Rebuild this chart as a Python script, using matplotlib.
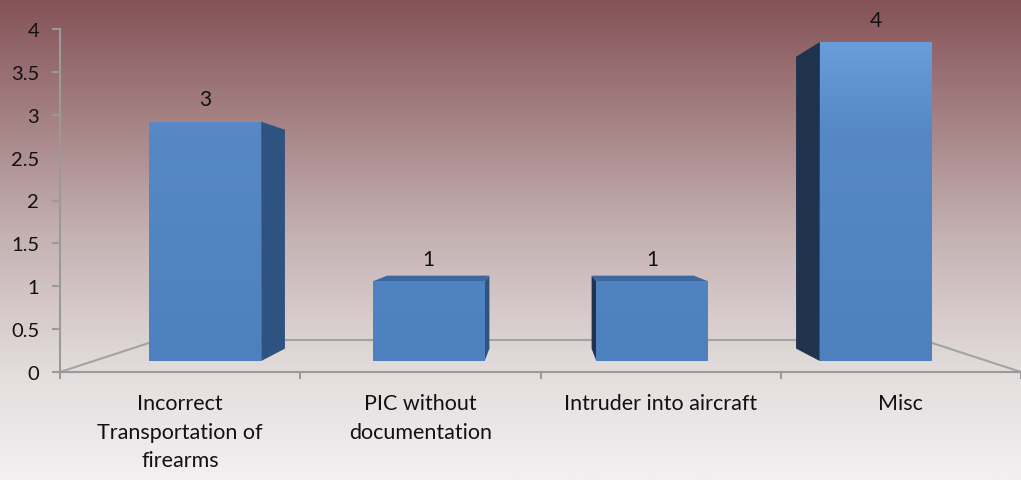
import matplotlib
matplotlib.use('Agg')

import numpy as np
import matplotlib.pyplot as plt
from matplotlib.patches import Polygon
from matplotlib.colors import LinearSegmentedColormap

categories = ['Incorrect\nTransportation of\nfirearms', 'PIC without\ndocumentation',
              'Intruder into aircraft', 'Misc']
values = [3, 1, 1, 4]
yticks = [0, 0.5, 1, 1.5, 2, 2.5, 3, 3.5, 4]
ytick_labels = ['0', '0.5', '1', '1.5', '2', '2.5', '3', '3.5', '4']

plt.rcParams['font.family'] = ['Lato', 'DejaVu Sans']

# fake perspective: front plane scale s=1, bars set back a bit
vx, vy = 1.5, 1.83       # vanishing point in data units
s_front, s_back, s_floor = 0.93, 0.851, 0.796
half_w = 0.25

def proj(x, y, s):
    return (vx + s * (x - vx), vy + s * (y - vy))

fig = plt.figure(figsize=(10.21, 4.81), dpi=100)

# background gradient
bg = fig.add_axes([0, 0, 1, 1], zorder=0)
bg_cmap = LinearSegmentedColormap.from_list('bg', [(0, '#f2f0f2'), (0.22, '#e4dddd'),
                                                   (0.5, '#c6b3b4'), (0.75, '#a58284'),
                                                   (1, '#845257')])
bg.imshow(np.linspace(0, 1, 256).reshape(-1, 1), cmap=bg_cmap, aspect='auto',
          origin='lower', extent=[0, 1, 0, 1])
bg.set_axis_off()

ax = fig.add_axes([60 / 1021, 108 / 481, 961 / 1021, 343 / 481], zorder=1)
ax.patch.set_alpha(0)
ax.set_xlim(-0.5, -0.5 + 961 / 243)
ax.set_ylim(0, 4)

# floor outline
n = len(values)
bl = proj(-0.5, 0, s_floor)
br = proj(n - 0.5, 0, s_floor)
ax.plot([-0.5, bl[0], br[0], n - 0.5], [0, bl[1], br[1], 0], color='#a3a3a3', lw=1.5, zorder=1)

bar_cmap = LinearSegmentedColormap.from_list('bar', [(0, '#4d81be'), (0.7, '#5588c5'),
                                                     (1, '#6ca1dd')])
grad = np.linspace(0, 1, 256).reshape(-1, 1)

for i, v in enumerate(values):
    x0, x1 = i - half_w, i + half_w
    if x1 < vx:
        side = [proj(x1, 0, s_front), proj(x1, v, s_front), proj(x1, v, s_back), proj(x1, 0, s_back)]
        ax.add_patch(Polygon(side, closed=True, facecolor='#2f5381', edgecolor='none', zorder=2))
    elif x0 > vx:
        side = [proj(x0, 0, s_front), proj(x0, v, s_front), proj(x0, v, s_back), proj(x0, 0, s_back)]
        ax.add_patch(Polygon(side, closed=True, facecolor='#1f334e', edgecolor='none', zorder=2))
    if v < vy:
        top = [proj(x0, v, s_front), proj(x1, v, s_front), proj(x1, v, s_back), proj(x0, v, s_back)]
        ax.add_patch(Polygon(top, closed=True, facecolor='#3e69a0', edgecolor='none', zorder=2))
    front = [proj(x0, 0, s_front), proj(x1, 0, s_front), proj(x1, v, s_front), proj(x0, v, s_front)]
    face = Polygon(front, closed=True, facecolor='none', edgecolor='none', zorder=3)
    ax.add_patch(face)
    im = ax.imshow(grad, cmap=bar_cmap, aspect='auto', origin='lower',
                   extent=[-0.5, 3.5, 0, 4], zorder=3)
    im.set_clip_path(face)
    tx, ty = proj(i, v, s_front)
    ax.annotate(str(v), xy=(tx, ty), xytext=(0, 9), textcoords='offset points',
                ha='center', va='bottom', fontsize=15, color='#111111', zorder=4)

ax.set_xlim(-0.5, -0.5 + 961 / 243)
ax.set_ylim(0, 4)

for sp in ['top', 'right']:
    ax.spines[sp].set_visible(False)
for sp in ['left', 'bottom']:
    ax.spines[sp].set_color('#9a9a9a')
    ax.spines[sp].set_linewidth(1.5)

ax.set_yticks(yticks)
ax.set_yticklabels(ytick_labels, fontsize=14.5, color='#111111')
ax.tick_params(axis='y', length=6, width=1.5, color='#9a9a9a', pad=9)

ax.set_xticks([i - 0.5 for i in range(n + 1)])
ax.set_xticklabels([])
ax.tick_params(axis='x', which='major', length=5, width=1.5, color='#9a9a9a')
ax.set_xticks(range(n), minor=True)
ax.set_xticklabels(categories, minor=True, fontsize=15.5, color='#111111', linespacing=1.55)
ax.tick_params(axis='x', which='minor', length=0, pad=15)

plt.savefig('out.png', dpi=100)
